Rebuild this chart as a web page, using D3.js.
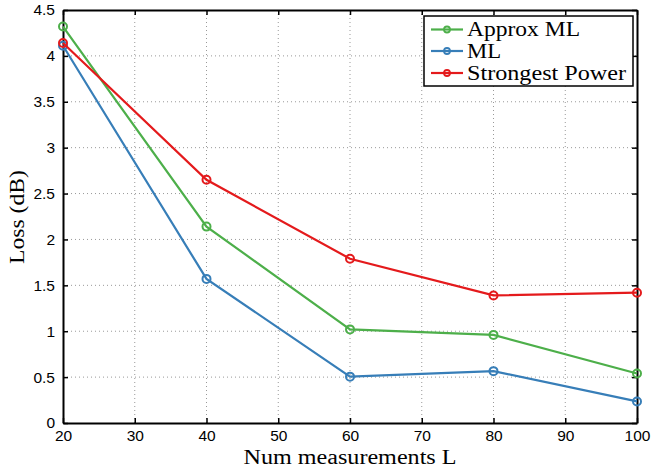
<!DOCTYPE html>
<html><head><meta charset="utf-8">
<script src="https://cdn.jsdelivr.net/npm/d3@7"></script>
<style>body{margin:0;background:#fff}</style>
</head><body>
<svg id="c" width="654" height="468"></svg>
<script>
const xValues = [20, 40, 60, 80, 100];
const approxML = [4.32, 2.14, 1.02, 0.96, 0.54];
const ml = [4.11, 1.57, 0.505, 0.565, 0.235];
const strongest = [4.14, 2.65, 1.79, 1.39, 1.42];
const seriesNames = ["Approx ML", "ML", "Strongest Power"];
const seriesColors = ["#4daf4a", "#377eb8", "#e41a1c"];
const xTicks = [20, 30, 40, 50, 60, 70, 80, 90, 100];
const yTicks = [0, 0.5, 1, 1.5, 2, 2.5, 3, 3.5, 4, 4.5];
const yTickLabels = ["0", "0.5", "1", "1.5", "2", "2.5", "3", "3.5", "4", "4.5"];

const series = [approxML, ml, strongest];
const svg = d3.select("#c");
const L = 63, R = 637, T = 10, B = 423;
const x = d3.scaleLinear().domain([20, 100]).range([L, R]);
const y = d3.scaleLinear().domain([0, 4.5]).range([B, T]);
const serif = "'Liberation Serif', 'Times New Roman', serif";

// grid
const g = svg.append("g");
g.selectAll(".gx").data(xTicks.slice(1, -1)).enter().append("line")
  .attr("x1", d => x(d)).attr("x2", d => x(d)).attr("y1", T).attr("y2", B)
  .attr("stroke", "#999").attr("stroke-width", 1).attr("stroke-dasharray", "1,3");
g.selectAll(".gy").data(yTicks.slice(1, -1)).enter().append("line")
  .attr("y1", d => y(d)).attr("y2", d => y(d)).attr("x1", L).attr("x2", R)
  .attr("stroke", "#999").attr("stroke-width", 1).attr("stroke-dasharray", "1,3");

// axes with inward ticks
const ax = svg.append("g").attr("font-family", "'Liberation Sans', Arial, sans-serif");
const xb = ax.append("g").attr("transform", `translate(0,${B})`)
  .call(d3.axisBottom(x).tickValues(xTicks).tickSizeInner(-5).tickSizeOuter(0).tickPadding(9));
const xt = ax.append("g").attr("transform", `translate(0,${T})`)
  .call(d3.axisTop(x).tickValues(xTicks).tickSizeInner(-5).tickSizeOuter(0).tickFormat(""));
const yl = ax.append("g").attr("transform", `translate(${L},0)`)
  .call(d3.axisLeft(y).tickValues(yTicks).tickFormat((d, i) => yTickLabels[i]).tickSizeInner(-5).tickSizeOuter(0).tickPadding(8));
const yr = ax.append("g").attr("transform", `translate(${R},0)`)
  .call(d3.axisRight(y).tickValues(yTicks).tickSizeInner(-5).tickSizeOuter(0).tickFormat(""));
[xb, xt, yl, yr].forEach(a => {
  a.select(".domain").attr("stroke", "#000").attr("stroke-width", 2);
  a.selectAll(".tick line").attr("stroke", "#000").attr("stroke-width", 1.5);
  a.selectAll("text").attr("font-size", 15.5).attr("fill", "#000");
});
xb.selectAll("text").attr("dy", "0.55em");

// series
const line = d3.line().x((d, i) => x(xValues[i])).y(d => y(d));
series.forEach((s, k) => {
  svg.append("path").datum(s).attr("d", line).attr("fill", "none")
    .attr("stroke", seriesColors[k]).attr("stroke-width", 2.2);
  svg.selectAll(null).data(s).enter().append("circle")
    .attr("cx", (d, i) => x(xValues[i])).attr("cy", d => y(d)).attr("r", 4)
    .attr("fill", "none").attr("stroke", seriesColors[k]).attr("stroke-width", 2);
});

// axis labels
svg.append("text").attr("x", 350).attr("y", 464).attr("text-anchor", "middle")
  .attr("font-family", serif).attr("font-size", 20)
  .attr("textLength", 213).attr("lengthAdjust", "spacingAndGlyphs")
  .text("Num measurements L");
svg.append("text").attr("transform", "translate(24,217) rotate(-90)").attr("text-anchor", "middle")
  .attr("font-family", serif).attr("font-size", 20)
  .attr("textLength", 94).attr("lengthAdjust", "spacingAndGlyphs")
  .text("Loss (dB)");

// legend
const lg = svg.append("g");
lg.append("rect").attr("x", 424).attr("y", 16).attr("width", 209).attr("height", 70)
  .attr("fill", "#fff").attr("stroke", "#000").attr("stroke-width", 1.5);
const rowsY = [29.5, 51, 73];
const legendLens = [113, 34, 159];
seriesNames.forEach((n, k) => {
  lg.append("line").attr("x1", 431).attr("x2", 463).attr("y1", rowsY[k]).attr("y2", rowsY[k])
    .attr("stroke", seriesColors[k]).attr("stroke-width", 2.2);
  lg.append("circle").attr("cx", 447).attr("cy", rowsY[k]).attr("r", 3)
    .attr("fill", "none").attr("stroke", seriesColors[k]).attr("stroke-width", 1.8);
  lg.append("text").attr("x", 467).attr("y", rowsY[k] + 6.5)
    .attr("font-family", serif).attr("font-size", 20)
    .attr("textLength", legendLens[k]).attr("lengthAdjust", "spacingAndGlyphs")
    .text(n);
});
</script>
</body></html>
